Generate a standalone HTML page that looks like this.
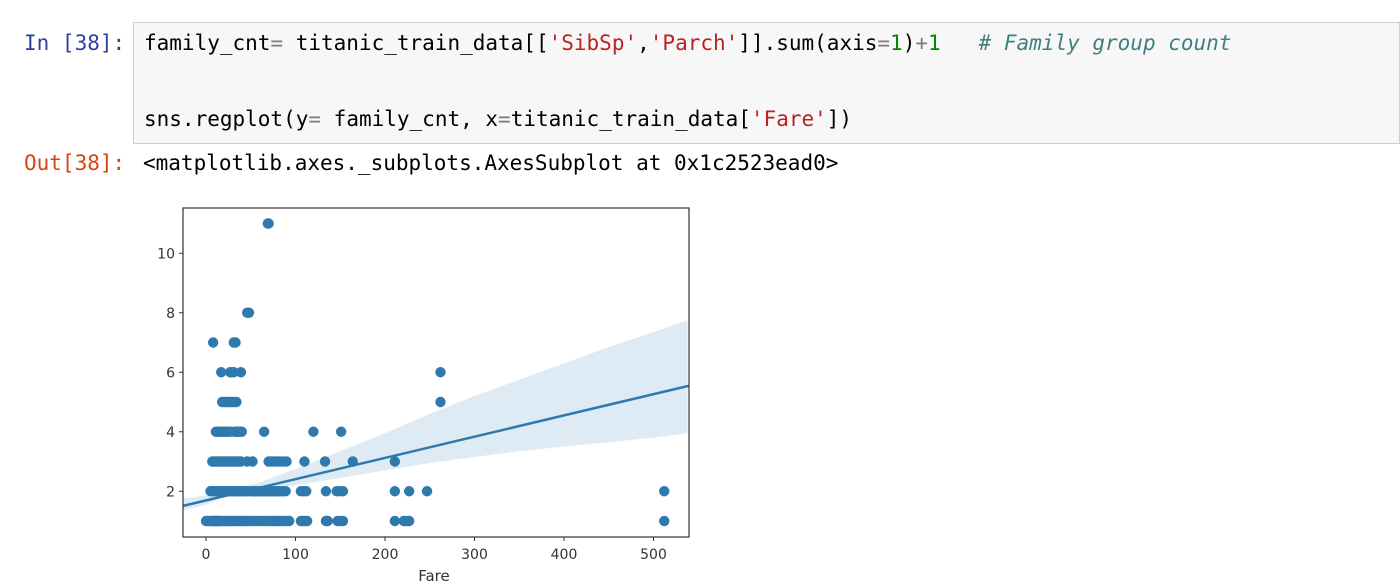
<!DOCTYPE html>
<html><head><meta charset="utf-8">
<style>
body{margin:0;width:1400px;height:585px;background:#fff;overflow:hidden;position:relative;font-family:"DejaVu Sans Mono","Liberation Mono",monospace;}
.prompt{position:absolute;font-size:21px;}
.code{position:absolute;left:133px;top:22px;width:1267px;height:122px;background:#f7f7f7;border:1px solid #cfcfcf;box-sizing:border-box;}
.line{position:absolute;left:10px;font-size:21px;color:#000;white-space:pre;}
.out{position:absolute;left:143px;top:151px;font-size:21px;white-space:pre;}
</style></head><body>
<div class="prompt" style="left:24px;top:31px;color:#303f9f">In [38]:</div>
<div class="code">
<div class="line" style="top:8px">family_cnt<span style="color:#7a7a7a">=</span> titanic_train_data[[<span style="color:#ba2121">'SibSp'</span>,<span style="color:#ba2121">'Parch'</span>]].sum(axis<span style="color:#7a7a7a">=</span><span style="color:#080">1</span>)<span style="color:#7a7a7a">+</span><span style="color:#080">1</span>   <i style="color:#408080"># Family group count</i></div>
<div class="line" style="top:84px">sns.regplot(y<span style="color:#7a7a7a">=</span> family_cnt, x<span style="color:#7a7a7a">=</span>titanic_train_data[<span style="color:#ba2121">'Fare'</span>])</div>
</div>
<div class="prompt" style="left:24px;top:151px;color:#d84315">Out[38]:</div>
<div class="out">&lt;matplotlib.axes._subplots.AxesSubplot at 0x1c2523ead0&gt;</div>
<svg id="chart" width="1400" height="585" style="position:absolute;left:0;top:0"></svg>
<script>
const yLevels=[1,2,3,4,5,6,7,8,11];
const fares1=[0,2,4,6,7,8,9,10,11,12,13,14,15,16,18,20,22,24,26,27,29,31,33,35,37,39,41,43,45,47,50,52,55,57,60,63,66,69,71,73,75,77,79,81,83,85,87,90,93,106,108,110,113,134,136,147,150,153,211,221,224,227,512];
const fares2=[5,7,9,11,13,15,17,19,21,23,25,27,29,31,33,35,37,39,41,43,46,49,52,54,56,58,60,62,64,66,68,70,72,74,76,78,80,82,84,86,89,106,109,112,134,146,149,153,211,227,247,512];
const fares3=[7,9,11,13,15,17,19,21,23,25,27,29,31,33,35,37,39,46,52,70,73,76,79,82,86,90,110,133,164,211];
const fares4=[11,13,15,17,19,21,23,25,27,32,34,36,38,40,65,120,151];
const fares5=[18,20,22,24,26,28,30,32,34,262];
const fares6=[17,27,29,31,39,262];
const fares7=[8,31,33];
const fares8=[46,48];
const fares11=[69,70];
const xTicks=[0,100,200,300,400,500];
const yTicks=[2,4,6,8,10];
const regIntercept=1.7, regSlope=0.00715;
const ciX=[-27,0,30,60,100,150,200,250,300,350,400,450,500,538];
const ciLo=[1.35,1.55,1.95,2.05,2.2,2.45,2.7,2.95,3.15,3.35,3.5,3.65,3.8,3.95];
const ciHi=[1.75,1.85,2.05,2.3,2.75,3.35,3.95,4.6,5.2,5.75,6.3,6.85,7.35,7.75];
const L=183,R=689,T=208,B=537;
const xs=v=>206+v*0.895, ys=v=>521-(v-1)*29.75;
const svg=document.getElementById('chart');const NS='http://www.w3.org/2000/svg';
function mk(t,a){const e=document.createElementNS(NS,t);for(const k in a)e.setAttribute(k,a[k]);svg.appendChild(e);return e;}
const cp=mk('clipPath',{id:'clip'});const cr=document.createElementNS(NS,'rect');cr.setAttribute('x',L);cr.setAttribute('y',T);cr.setAttribute('width',R-L);cr.setAttribute('height',B-T);cp.appendChild(cr);
let pts=ciX.map((x,i)=>xs(x)+','+ys(ciHi[i])).concat(ciX.map((x,i)=>xs(x)+','+ys(ciLo[i])).reverse());
const band=mk('polygon',{points:pts.join(' '),fill:'#1f77b4','fill-opacity':0.15,'clip-path':'url(#clip)'});


const all=[fares1,fares2,fares3,fares4,fares5,fares6,fares7,fares8,fares11];
all.forEach((arr,i)=>arr.forEach(f=>{const c=mk('circle',{cx:xs(f),cy:ys(yLevels[i]),r:5.2,fill:'#2f79ad'});

}));
const ln=mk('line',{x1:L,y1:ys(regIntercept+regSlope*-26.8),x2:R,y2:ys(regIntercept+regSlope*538),stroke:'#2f79ad','stroke-width':2.5});


const fr=mk('rect',{x:L,y:T,width:R-L,height:B-T,fill:'none',stroke:'#333','stroke-width':1.2});


xTicks.forEach(t=>{mk('line',{x1:xs(t),x2:xs(t),y1:B,y2:B+4,stroke:'#333'});const tx=mk('text',{x:xs(t),y:B+22,'text-anchor':'middle','font-size':14,'font-family':'DejaVu Sans, sans-serif',fill:'#333'});tx.textContent=t;

});
yTicks.forEach(t=>{mk('line',{x1:L-4,x2:L,y1:ys(t),y2:ys(t),stroke:'#333'});const tx=mk('text',{x:L-8,y:ys(t)+5,'text-anchor':'end','font-size':14,'font-family':'DejaVu Sans, sans-serif',fill:'#333'});tx.textContent=t;

});
const xl=mk('text',{x:434,y:581,'text-anchor':'middle','font-size':15,'font-family':'DejaVu Sans, sans-serif',fill:'#333'});xl.textContent='Fare';


</script>
</body></html>
